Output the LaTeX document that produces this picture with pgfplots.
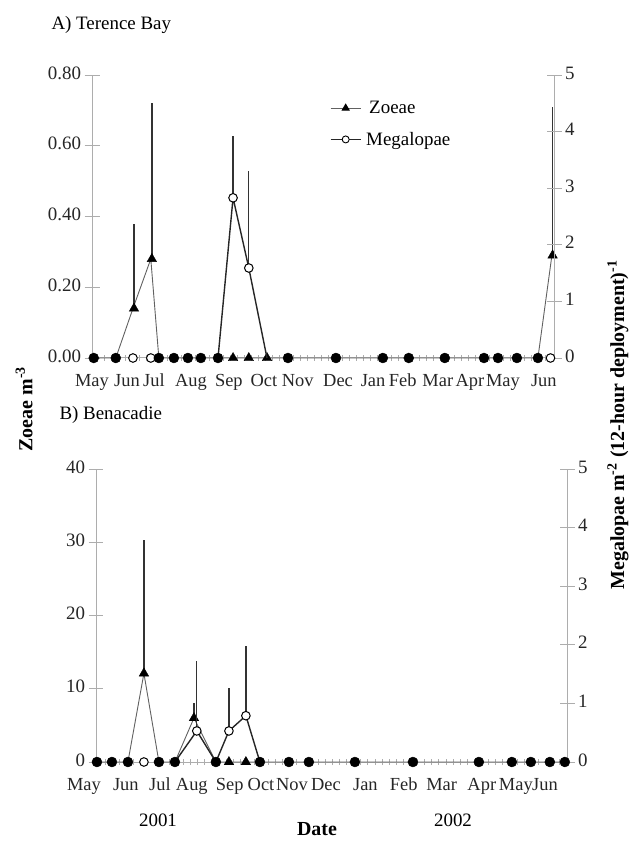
\documentclass[border=0pt]{standalone}
\usepackage{pgfplots}
\pgfplotsset{compat=1.18}
\usepackage{fontspec}
\setmainfont{Liberation Serif}
\definecolor{axgray}{gray}{0.68}
\definecolor{zcol}{gray}{0.38}
\begin{document}
\begin{tikzpicture}
\useasboundingbox (0bp,0bp) rectangle (635bp,841bp);
\pgfplotsset{
  base/.style={scale only axis, clip=false,
    tick label style={font=\fontsize{19}{21}\selectfont, text=black!85},
    typeset ticklabels with strut,
    xticklabel style={yshift=-3bp, font=\fontsize{18.5}{21}\selectfont},
    /pgf/number format/assume math mode=true,
    axis line style={axgray, line width=1bp},
    every tick/.style={axgray, line width=0.8bp},
    tick align=center,
    major tick length=15bp, minor tick length=6bp,
    major x tick style={draw=none},
  },
  zl/.style={zcol, line width=0.9bp, mark=none},
  ml/.style={black!85, line width=1.4bp, mark=none},
  tri/.style={only marks, mark=triangle*, mark size=5.5bp, mark options={fill=black, draw=black, line width=0.4bp}},
  oc/.style={only marks, mark=*, mark size=4.3bp, mark options={fill=white, draw=black, line width=1bp}},
  fc/.style={only marks, mark=*, mark size=5bp, mark options={fill=black, draw=black}},
  ebs/.style={line width=1.3bp, black!80},
}
% ---------------- Panel A: Terence Bay ----------------
\begin{axis}[base, at={(92bp,483bp)}, anchor=south west, width=462bp, height=283bp,
  xmin=0.06, xmax=13.26, ymin=0, ymax=0.8,
  axis x line*=bottom, axis y line*=left,
  ytick={0,0.2,0.4,0.6,0.8},
  yticklabel style={/pgf/number format/.cd, fixed, fixed zerofill, precision=2},
  xtick={0.06,1.06,1.83,2.89,3.97,4.97,5.94,7.09,8.09,8.94,9.94,10.86,11.8,12.97},
  xticklabels={May,Jun,Jul,Aug,Sep,Oct,Nov,Dec,Jan,Feb,Mar,Apr,May,Jun},
  minor xtick={0.2,0.4,...,13.2},
  legend style={at={(0.515,0.915)}, anchor=north west, draw=none, fill=none,
    font=\fontsize{19}{21}\selectfont, row sep=13bp, inner sep=0pt},
  legend cell align=left,
  legend image code/.code={\draw[mark repeat=2,mark phase=2,#1] plot coordinates {(0bp,0bp) (15bp,0bp) (30bp,0bp)};},
]
\addlegendimage{zcol, line width=0.9bp, mark=triangle*, mark size=4bp, mark options={fill=black, draw=black}}
\addlegendentry{\hspace{6bp}Zoeae}
\addlegendimage{black!85, line width=1.1bp, mark=*, mark size=3.5bp, mark options={fill=white, draw=black, line width=0.9bp}}
\addlegendentry{\hspace{3bp}Megalopae}
\addplot[zl] coordinates {(0.11,0)(0.74,0)(1.23,0.14)(1.74,0.28)(1.97,0)(2.40,0)(2.80,0)(3.17,0)(3.66,0)(4.09,0)(4.54,0)(5.06,0)(5.66,0)(7.03,0)(8.37,0)(9.11,0)(10.14,0)(11.26,0)(11.66,0)(12.20,0)(12.80,0)(13.20,0.29)};
\addplot[tri, error bars/.cd, y dir=plus, y explicit, error mark=none, error bar style={ebs}]
  coordinates {(1.26,0.14) +- (0,0.24) (1.77,0.28) +- (0,0.44) (13.22,0.29) +- (0,0.42)};
\addplot[tri] coordinates {(4.09,0)(4.54,0)(5.06,0)};
\end{axis}
\begin{axis}[base, at={(92bp,483bp)}, anchor=south west, width=462bp, height=283bp,
  xmin=0.06, xmax=13.26, ymin=0, ymax=5,
  axis x line=none, axis y line*=right,
  ytick={0,1,2,3,4,5},
]
\addplot[ml] coordinates {(3.66,0)(4.09,2.83)(4.54,1.59)(5.06,0)};
\addplot[oc] coordinates {(1.23,0)(1.74,0)(13.16,0)};
\addplot[oc, error bars/.cd, y dir=plus, y explicit, error mark=none, error bar style={ebs}]
  coordinates {(4.09,2.83) +- (0,1.09) (4.54,1.59) +- (0,1.71)};
\addplot[fc] coordinates {(0.11,0)(0.74,0)(1.97,0)(2.40,0)(2.80,0)(3.17,0)(3.66,0)(5.66,0)(7.03,0)(8.37,0)(9.11,0)(10.14,0)(11.26,0)(11.66,0)(12.20,0)(12.80,0)};
\end{axis}
% ---------------- Panel B: Benacadie ----------------
\begin{axis}[base, at={(96bp,79bp)}, anchor=south west, width=471bp, height=293bp,
  xmin=0.34, xmax=13.61, ymin=0, ymax=40,
  axis x line*=bottom, axis y line*=left,
  ytick={0,10,20,30,40},
  xtick={1.18,2.14,3.04,4.11,4.99,5.86,6.82,7.93,9.01,10.08,11.21,12.17,12.99},
  xticklabels={Jun,Jul,Aug,Sep,Oct,Nov,Dec,Jan,Feb,Mar,Apr,May,Jun},
  minor xtick={0.4,0.6,...,13.6},
]
\addplot[zl] coordinates {(0.366,0)(0.789,0)(1.239,0)(1.690,12.1)(2.113,0)(2.563,0)(3.10,6.0)(3.718,0)(4.085,0)(4.563,0)(4.958,0)(5.775,0)(6.338,0)(7.634,0)(9.268,0)(11.127,0)(12.056,0)(12.592,0)(13.127,0)(13.549,0)};
\addplot[tri, error bars/.cd, y dir=plus, y explicit, error mark=none, error bar style={ebs}]
  coordinates {(1.69,12.1) +- (0,18.2) (3.10,6.0) +- (0,2.0)};
\addplot[tri] coordinates {(4.085,0)(4.563,0)};
\end{axis}
\begin{axis}[base, at={(96bp,79bp)}, anchor=south west, width=471bp, height=293bp,
  xmin=0.34, xmax=13.61, ymin=0, ymax=5,
  axis x line=none, axis y line*=right,
  ytick={0,1,2,3,4,5},
]
\addplot[ml] coordinates {(2.563,0)(3.18,0.53)(3.718,0)(4.085,0.53)(4.563,0.79)(4.958,0)};
\addplot[oc] coordinates {(1.69,0)};
\addplot[oc, error bars/.cd, y dir=plus, y explicit, error mark=none, error bar style={ebs}]
  coordinates {(3.18,0.53) +- (0,1.19) (4.085,0.53) +- (0,0.73) (4.563,0.79) +- (0,1.19)};
\addplot[fc] coordinates {(0.366,0)(0.789,0)(1.239,0)(2.113,0)(2.563,0)(3.718,0)(4.958,0)(5.775,0)(6.338,0)(7.634,0)(9.268,0)(11.127,0)(12.056,0)(12.592,0)(13.127,0)(13.549,0)};
\end{axis}
% ---------------- Texts ----------------
\node[font=\fontsize{18.5}{21}\selectfont, text=black!85, anchor=base] at (84bp,50bp) {May};
\node[anchor=west, font=\fontsize{19}{22}\selectfont] at (48bp,816bp) {A) Terence Bay};
\node[anchor=west, font=\fontsize{19}{22}\selectfont] at (56bp,426bp) {B) Benacadie};
\node[rotate=90, font=\bfseries\fontsize{20}{22}\selectfont] at (24bp,432bp) {Zoeae m\textsuperscript{-3}};
\node[rotate=90, font=\bfseries\fontsize{20}{22}\selectfont] at (618bp,416bp) {Megalopae m\textsuperscript{-2} (12-hour deployment)\textsuperscript{-1}};
\node[font=\fontsize{19}{22}\selectfont] at (158bp,21bp) {2001};
\node[font=\fontsize{19}{22}\selectfont] at (453bp,21bp) {2002};
\node[font=\bfseries\fontsize{20}{22}\selectfont] at (317bp,12bp) {Date};
\end{tikzpicture}
\end{document}
